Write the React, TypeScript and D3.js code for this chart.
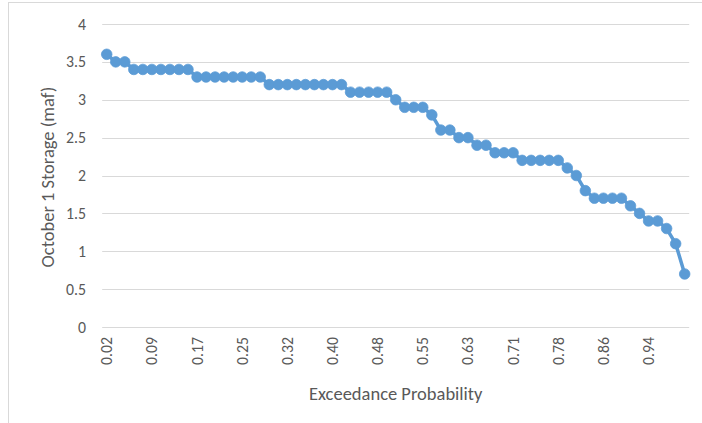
import React from "react";
import * as d3 from "d3";

const probabilities: string[] = [
  "0.02", "0.03", "0.05", "0.06", "0.08", "0.09", "0.11", "0.12", "0.14", "0.15",
  "0.17", "0.18", "0.20", "0.22", "0.23", "0.25", "0.26", "0.28", "0.29", "0.31",
  "0.32", "0.34", "0.35", "0.37", "0.38", "0.40", "0.42", "0.43", "0.45", "0.46",
  "0.48", "0.49", "0.51", "0.52", "0.54", "0.55", "0.57", "0.58", "0.60", "0.62",
  "0.63", "0.65", "0.66", "0.68", "0.69", "0.71", "0.72", "0.74", "0.75", "0.77",
  "0.78", "0.80", "0.82", "0.83", "0.85", "0.86", "0.88", "0.89", "0.91", "0.92",
  "0.94", "0.95", "0.97", "0.98", "1.00",
];

const storage: number[] = [
  3.6, 3.5, 3.5, 3.4, 3.4, 3.4, 3.4, 3.4, 3.4, 3.4,
  3.3, 3.3, 3.3, 3.3, 3.3, 3.3, 3.3, 3.3, 3.2, 3.2,
  3.2, 3.2, 3.2, 3.2, 3.2, 3.2, 3.2, 3.1, 3.1, 3.1,
  3.1, 3.1, 3.0, 2.9, 2.9, 2.9, 2.8, 2.6, 2.6, 2.5,
  2.5, 2.4, 2.4, 2.3, 2.3, 2.3, 2.2, 2.2, 2.2, 2.2,
  2.2, 2.1, 2.0, 1.8, 1.7, 1.7, 1.7, 1.7, 1.6, 1.5,
  1.4, 1.4, 1.3, 1.1, 0.7,
];

const yTicks: number[] = [0, 0.5, 1, 1.5, 2, 2.5, 3, 3.5, 4];
const xLabelEvery = 5;

const xTitle = "Exceedance Probability";
const yTitle = "October 1 Storage (maf)";

const W = 702;
const H = 423;
const plot = { left: 102.2, right: 689.2, top: 24, bottom: 327 };

const FONT = "Calibri, Carlito, Lato, 'Open Sans', sans-serif";
const TEXT = "#595959";
const GRID = "#d9d9d9";
const BLUE = "#5B9BD5";

export default function App() {
  const idx = probabilities.map((_, i) => i);
  const x = d3.scaleBand<number>().domain(idx).range([plot.left, plot.right]).padding(0);
  const y = d3.scaleLinear().domain([0, 4]).range([plot.bottom, plot.top]);
  const cx = (i: number) => (x(i) as number) + x.bandwidth() / 2;

  const line = d3
    .line<number>()
    .x((_, i) => cx(i))
    .y((d) => y(d));

  return (
    <svg
      width={W}
      height={H}
      viewBox={`0 0 ${W} ${H}`}
      style={{ position: "absolute", left: 0, top: 0, background: "#fff" }}
    >
      <rect x={0} y={0} width={W} height={H} fill="#fff" />
      {/* chart border */}
      <rect x={8.5} y={2.5} width={W + 20} height={H + 20} fill="none" stroke={GRID} strokeWidth={1} />

      {/* gridlines */}
      {yTicks.map((t) => (
        <line
          key={t}
          x1={plot.left}
          x2={plot.right}
          y1={Math.round(y(t)) + 0.5}
          y2={Math.round(y(t)) + 0.5}
          stroke={GRID}
          strokeWidth={1}
        />
      ))}

      {/* y tick labels */}
      {yTicks.map((t) => (
        <text
          key={"yl" + t}
          x={86}
          y={y(t)}
          textAnchor="end"
          dominantBaseline="central"
          fontFamily={FONT}
          fontSize={15.8}
          fill={TEXT}
        >
          {d3.format("~g")(t)}
        </text>
      ))}

      {/* x tick labels */}
      {probabilities.map((p, i) =>
        i % xLabelEvery === 0 ? (
          <text
            key={"xl" + i}
            transform={`translate(${cx(i)},${337}) rotate(-90)`}
            textAnchor="end"
            dominantBaseline="central"
            fontFamily={FONT}
            fontSize={15.8}
            fill={TEXT}
          >
            {p}
          </text>
        ) : null
      )}

      {/* axis titles */}
      <text
        x={(plot.left + plot.right) / 2}
        y={400}
        textAnchor="middle"
        fontFamily={FONT}
        fontSize={18.5}
        fill={TEXT}
      >
        {xTitle}
      </text>
      <text
        transform={`translate(${47},${177}) rotate(-90)`}
        textAnchor="middle"
        dominantBaseline="central"
        fontFamily={FONT}
        fontSize={18.5}
        fill={TEXT}
      >
        {yTitle}
      </text>

      {/* series */}
      <path d={line(storage) ?? ""} fill="none" stroke={BLUE} strokeWidth={3.5} strokeLinejoin="round" strokeLinecap="round" />
      {storage.map((v, i) => (
        <circle key={"m" + i} cx={cx(i)} cy={y(v)} r={5.3} fill={BLUE} stroke={BLUE} strokeWidth={0.75} />
      ))}
    </svg>
  );
}
